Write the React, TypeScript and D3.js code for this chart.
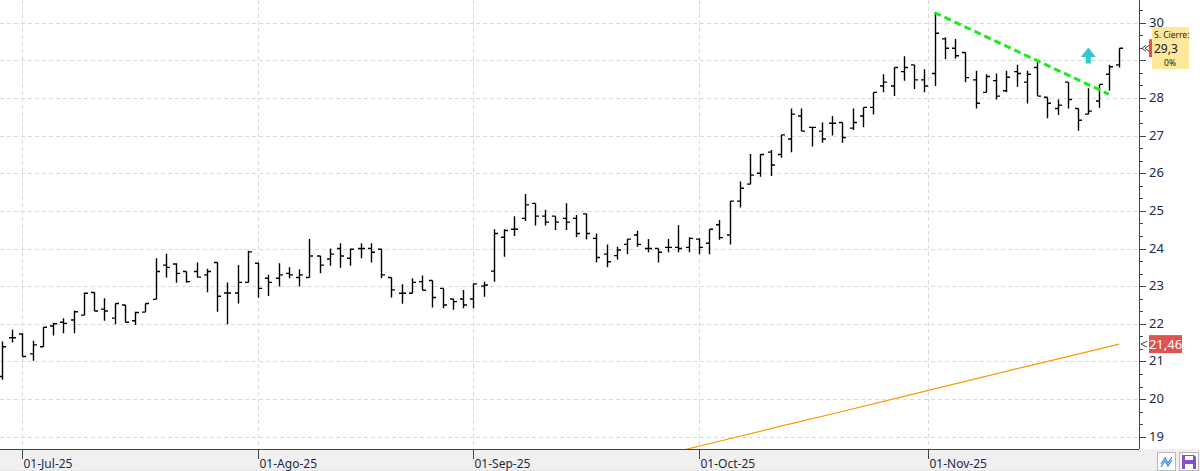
import React from 'react';
import * as d3 from 'd3';

// trading days run from the first bar to the last (weekdays only)
const firstDay = '2025-06-27';
const lastDay = '2025-11-27';

const opens = [
  20.60, 21.63, 21.73, 21.20, 21.39, 21.94, 22.04, 22.10, 22.23, 22.83,
  22.39, 22.15, 22.50, 22.08, 22.31, 22.65, 23.56, 23.59, 23.39, 23.39,
  23.30, 23.63, 22.82, 22.82, 23.10, 23.61, 23.21, 23.21, 23.34, 23.23,
  23.23, 23.80, 23.72, 24.00, 23.74, 24.00, 24.00, 23.98, 23.23, 22.81,
  22.81, 23.12, 23.15, 22.94, 22.66, 22.66, 22.66, 23.00, 23.40, 24.30,
  24.51, 24.80, 25.20, 24.86, 24.86, 24.80, 24.80, 24.92, 24.27, 23.85,
  23.81, 24.11, 24.36, 24.00, 24.00, 24.03, 24.03, 24.03, 24.25, 24.14,
  24.63, 24.36, 25.26, 25.71, 26.00, 26.56, 26.50, 26.91, 27.52, 27.22,
  27.12, 27.33, 27.35, 27.20, 27.52, 27.75, 28.32, 28.32, 28.70, 28.88,
  28.48, 28.65, 29.57, 29.32, 29.21, 28.48, 28.15, 28.46, 28.19, 28.70,
  28.42, 28.81, 28.02, 27.72, 28.42, 27.72, 27.57, 27.92, 28.63, 28.88,
];
const highs = [
  21.53, 21.84, 21.75, 21.55, 21.91, 22.03, 22.15, 22.35, 22.83, 22.84,
  22.68, 22.54, 22.50, 22.32, 22.54, 23.74, 23.86, 23.61, 23.39, 23.63,
  23.46, 23.63, 23.10, 23.56, 23.94, 23.62, 23.30, 23.61, 23.50, 23.45,
  24.25, 23.80, 24.00, 24.14, 24.00, 24.14, 24.14, 24.00, 23.23, 23.05,
  23.21, 23.28, 23.15, 22.94, 22.66, 22.90, 23.07, 23.12, 24.51, 24.51,
  24.86, 25.45, 25.20, 25.03, 24.86, 25.20, 24.89, 24.93, 24.40, 24.11,
  24.05, 24.25, 24.47, 24.25, 24.00, 24.25, 24.62, 24.30, 24.27, 24.51,
  24.76, 25.26, 25.78, 26.51, 26.51, 26.62, 27.02, 27.72, 27.72, 27.22,
  27.35, 27.52, 27.35, 27.72, 27.75, 28.15, 28.63, 28.81, 29.11, 28.88,
  28.76, 30.27, 29.61, 29.57, 29.21, 28.72, 28.63, 28.65, 28.72, 28.88,
  28.72, 28.95, 28.02, 27.96, 28.42, 27.72, 28.26, 28.36, 28.88, 29.32,
];
const lows = [
  20.51, 21.50, 21.13, 21.02, 21.39, 21.69, 21.75, 21.75, 22.23, 22.34,
  22.08, 21.99, 22.04, 21.97, 22.31, 22.65, 23.23, 23.09, 23.09, 23.23,
  22.84, 22.32, 21.99, 22.54, 23.10, 22.69, 22.74, 22.99, 23.21, 22.99,
  23.23, 23.34, 23.54, 23.49, 23.54, 23.74, 23.63, 23.21, 22.70, 22.53,
  22.81, 22.89, 22.43, 22.41, 22.37, 22.41, 22.41, 22.72, 23.12, 23.78,
  24.33, 24.73, 24.61, 24.61, 24.49, 24.49, 24.30, 24.24, 23.63, 23.50,
  23.71, 23.85, 24.05, 23.90, 23.63, 23.90, 23.90, 23.90, 23.85, 23.85,
  24.23, 24.11, 25.09, 25.71, 25.91, 25.93, 26.41, 26.56, 27.12, 26.71,
  26.81, 27.00, 26.81, 27.15, 27.22, 27.56, 28.15, 28.05, 28.46, 28.24,
  28.15, 28.32, 29.03, 29.05, 28.42, 27.72, 28.15, 27.96, 28.15, 28.30,
  27.85, 28.05, 27.46, 27.55, 27.72, 27.13, 27.57, 27.74, 28.19, 28.81,
];
const closes = [
  21.39, 21.63, 21.13, 21.44, 21.91, 22.00, 22.01, 22.32, 22.81, 22.34,
  22.34, 22.54, 22.04, 22.30, 22.54, 23.39, 23.50, 23.34, 23.12, 23.24,
  23.39, 22.73, 22.82, 23.10, 23.91, 22.94, 23.10, 23.30, 23.30, 23.30,
  23.80, 23.56, 23.85, 23.80, 23.98, 24.00, 23.90, 23.30, 22.90, 22.81,
  23.10, 22.89, 22.70, 22.50, 22.59, 22.50, 23.06, 23.03, 24.40, 24.48,
  24.51, 25.16, 24.86, 24.70, 24.70, 24.70, 24.40, 24.40, 23.76, 23.65,
  23.96, 24.25, 24.11, 24.00, 23.90, 24.03, 24.00, 24.27, 24.03, 24.51,
  24.29, 25.26, 25.60, 25.95, 26.50, 26.22, 27.02, 27.57, 27.12, 27.22,
  26.91, 27.33, 26.95, 27.35, 27.75, 28.15, 28.42, 28.81, 28.81, 28.48,
  28.32, 29.72, 29.32, 29.12, 28.54, 27.86, 28.57, 28.05, 28.55, 28.65,
  28.63, 28.05, 27.86, 27.81, 27.96, 27.41, 27.65, 28.36, 28.83, 29.32,
];

// long moving average (orange), read at a few dates
const maDates = ['2025-09-25', '2025-10-03', '2025-10-13', '2025-10-21', '2025-10-29', '2025-11-06', '2025-11-14', '2025-11-24', '2025-11-27'];
const maValues = [18.48, 18.88, 19.28, 19.67, 20.07, 20.47, 20.87, 21.26, 21.46];

// green dashed resistance line
const trendDates = ['2025-11-03', '2025-11-26'];
const trendValues = [30.27, 28.10];

// buy signal arrow
const signalDate = '2025-11-24';
const signalValue = 29.34;

const monthTicks = ['2025-07-01', '2025-08-01', '2025-09-01', '2025-10-01', '2025-11-01'];
const monthLabels = ['01-Jul-25', '01-Ago-25', '01-Sep-25', '01-Oct-25', '01-Nov-25'];
const yTicks = [19, 20, 21, 22, 23, 24, 25, 26, 27, 28, 29, 30];

const W = 1200;
const H = 471;
const plotRight = 1139;
const plotBottom = 449;
const FONT = '"Noto Sans", "Open Sans", sans-serif';

const parse = d3.timeParse('%Y-%m-%d');
const fmt = d3.timeFormat('%Y-%m-%d');
const days = d3.timeDay
  .range(parse(firstDay)!, d3.timeDay.offset(parse(lastDay)!, 1))
  .filter(d => d.getDay() !== 0 && d.getDay() !== 6);
const dayKeys = days.map(d => fmt(d));

// position of a date in bar units; weekends get a third of a bar per day
function dateIndex(s: string): number {
  const i = dayKeys.indexOf(s);
  if (i >= 0) return i;
  const d = parse(s)!;
  let j = 0;
  while (j + 1 < days.length && days[j + 1] < d) j++;
  return j + d3.timeDay.count(days[j], d) / 3;
}

export default function App() {
  const x = d3.scaleLinear().domain([0, days.length - 1]).range([1.8, 1.8 + (days.length - 1) * 10.25]);
  const y = d3.scaleLinear().domain([19, 30]).range([436.7, 22.7]);

  const maLine = d3.line<number>()
    .x((_, i) => x(dateIndex(maDates[i])))
    .y(v => y(v));

  const minorTicks = d3.range(0, 35).map(k => 19 + k / 3).filter(v => Math.abs(v - Math.round(v)) > 0.01);

  const sx = x(dateIndex(signalDate));
  const sy = y(signalValue);
  const last = closes[closes.length - 1];
  const maLast = maValues[maValues.length - 1];
  // the close-price box sits on top of the tick labels it covers
  const boxTop = 27;
  const boxBottom = 69;
  const visibleLabels = yTicks.filter(v => y(v) < boxTop - 4 || y(v) > boxBottom + 4);

  return (
    <svg width={W} height={H} style={{ position: 'absolute', left: 0, top: 0, display: 'block' }} fontFamily={FONT}>
      <defs>
        <clipPath id="plot">
          <rect x={0} y={0} width={plotRight} height={plotBottom} />
        </clipPath>
      </defs>
      <rect x={0} y={0} width={W} height={H} fill="#fff" />

      {/* grid */}
      <g stroke="#dadada" strokeDasharray="4,3" strokeWidth={1}>
        {yTicks.map(v => (
          <line key={v} x1={0} x2={plotRight} y1={Math.round(y(v)) + 0.5} y2={Math.round(y(v)) + 0.5} />
        ))}
        {monthTicks.map(m => {
          const px = Math.round(x(dateIndex(m))) + 0.5;
          return <line key={m} x1={px} x2={px} y1={0} y2={plotBottom} />;
        })}
      </g>

      <g clipPath="url(#plot)">
        {/* moving average */}
        <path d={maLine(maValues) || ''} fill="none" stroke="#ff9800" strokeWidth={1.2} />

        {/* OHLC bars */}
        <g stroke="#000" strokeWidth={1.4} fill="none">
          {opens.map((o, i) => {
            const bx = Math.round(x(i)) + 0.5;
            return (
              <path
                key={i}
                d={`M${bx},${y(highs[i])}V${y(lows[i])}M${bx - 3.5},${y(o)}H${bx}M${bx},${y(closes[i])}H${bx + 3.5}`}
              />
            );
          })}
        </g>

        {/* trend line */}
        <line
          x1={x(dateIndex(trendDates[0]))}
          y1={y(trendValues[0])}
          x2={x(dateIndex(trendDates[1]))}
          y2={y(trendValues[1])}
          stroke="#1ee81e"
          strokeWidth={3}
          strokeDasharray="7,4"
        />

        {/* signal arrow */}
        <path
          d={`M${sx},${sy}L${sx + 7.5},${sy + 9.5}H${sx + 2.5}V${sy + 16}H${sx - 2.5}V${sy + 9.5}H${sx - 7.5}Z`}
          fill="#33c9cc"
        />
      </g>

      {/* right axis */}
      <line x1={plotRight + 0.5} x2={plotRight + 0.5} y1={0} y2={plotBottom} stroke="#444" />
      <g stroke="#444">
        {yTicks.map(v => (
          <line key={v} x1={plotRight} x2={plotRight + 7} y1={Math.round(y(v)) + 0.5} y2={Math.round(y(v)) + 0.5} />
        ))}
        {minorTicks.map(v => (
          <line key={v} x1={plotRight} x2={plotRight + 4} y1={Math.round(y(v)) + 0.5} y2={Math.round(y(v)) + 0.5} />
        ))}
      </g>
      <g fontSize={13} fill="#1e2a46">
        {visibleLabels.map(v => (
          <text key={v} x={1149} y={y(v) - 1} dominantBaseline="central">{v}</text>
        ))}
      </g>

      {/* bottom axis */}
      <rect x={0} y={plotBottom} width={W} height={H - plotBottom} fill="#f0f0f0" />
      <line x1={0} x2={plotRight} y1={plotBottom + 0.5} y2={plotBottom + 0.5} stroke="#444" />
      <line x1={0} x2={W} y1={H - 0.5} y2={H - 0.5} stroke="#e4e4e4" />
      {monthTicks.map((m, i) => {
        const px = Math.round(x(dateIndex(m))) + 0.5;
        return (
          <g key={m}>
            <line x1={px} x2={px} y1={plotBottom} y2={plotBottom + 10} stroke="#444" />
            <text x={px + 1} y={468} fontSize={12} fill="#1e2a46">{monthLabels[i]}</text>
          </g>
        );
      })}

      {/* price labels */}
      <path d={`M1147,${y(maLast) - 3}L1141,${y(maLast)}L1147,${y(maLast) + 3}`} fill="none" stroke="#444" />
      <rect x={1149} y={y(maLast) - 9} width={33} height={18} fill="#e05252" />
      <text x={1165.5} y={y(maLast)} fontSize={13} fill="#fff" textAnchor="middle" dominantBaseline="central">
        {d3.format('.2f')(maLast).replace('.', ',')}
      </text>

      <path
        d={`M1146,${y(last) - 3}L1142,${y(last)}L1146,${y(last) + 3}M1149,${y(last) - 3}L1145,${y(last)}L1149,${y(last) + 3}`}
        fill="none"
        stroke="#444"
      />
      <rect x={1149} y={y(last) - 9} width={34} height={18} fill="#e05252" />
      <rect x={1152} y={boxTop} width={37} height={boxBottom - boxTop} fill="#fde89b" />
      <text x={1154} y={38} fontSize={8.5} fill="#222">S. Cierre:</text>
      <text x={1154} y={y(last) + 0.5} fontSize={12} fill="#222" dominantBaseline="central">
        {d3.format('.1f')(last).replace('.', ',')}
      </text>
      <text x={1170} y={66} fontSize={8.5} fill="#222" textAnchor="middle">0%</text>

      {/* toolbar icons */}
      <rect x={1157.5} y={452.5} width={18} height={18} fill="#fff" stroke="#b8b8b8" />
      <path d="M1161,464L1165,458L1168,463L1172,457M1161,467L1165,461L1168,466L1172,460" fill="none" stroke="#4a90d9" strokeWidth={1.3} />
      <rect x={1179.5} y={452.5} width={19} height={18} fill="#fff" stroke="#b8b8b8" />
      <path d="M1182,455H1194L1196,457V469H1182Z" fill="#8a4fc8" />
      <rect x={1185} y={456} width={8} height={4} fill="#fff" />
      <rect x={1185} y={464} width={8} height={5} fill="#fff" />
    </svg>
  );
}
